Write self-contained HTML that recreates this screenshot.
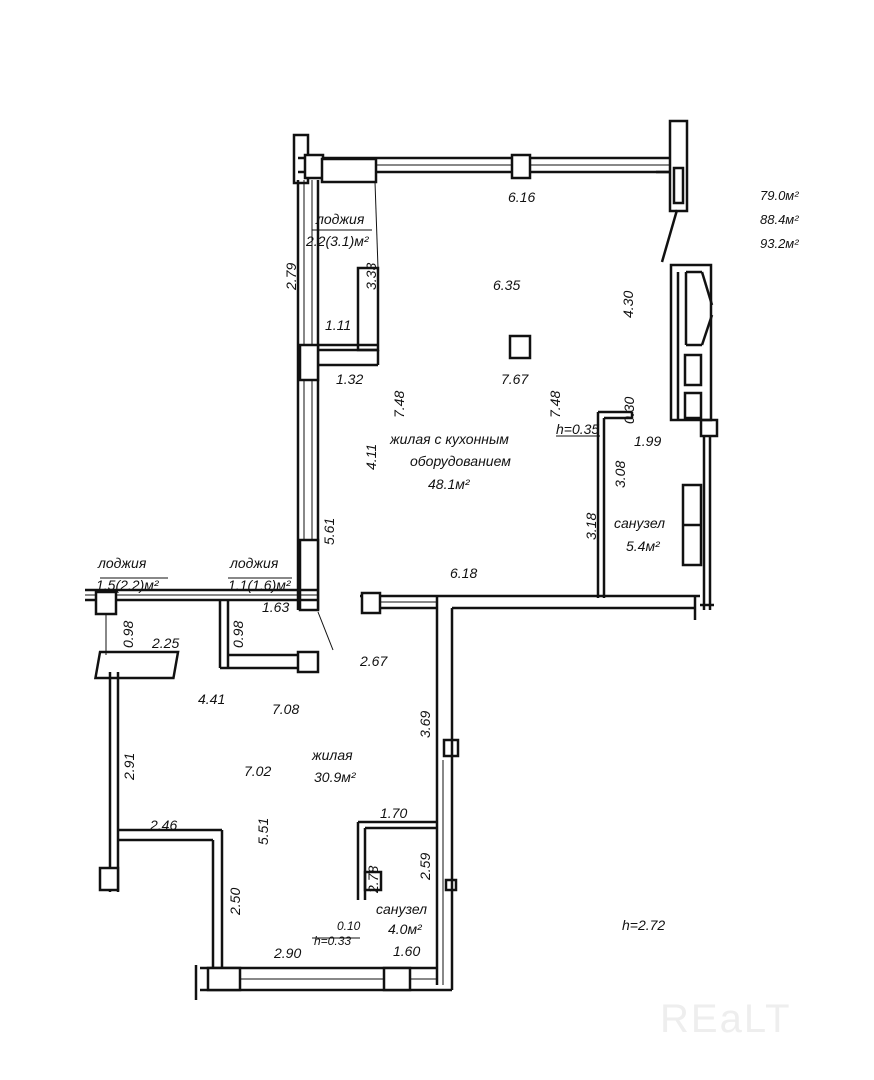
<!DOCTYPE html>
<html><head><meta charset="utf-8"><style>
html,body{margin:0;padding:0;background:#fff;width:874px;height:1080px;overflow:hidden}
svg text{font-family:"Liberation Sans",sans-serif;font-style:italic;fill:#111;font-size:14px}
</style></head><body>
<svg width="874" height="1080" viewBox="0 0 874 1080" xmlns="http://www.w3.org/2000/svg">
<g fill="none" stroke="#111" stroke-width="2.5">
<line x1="298" y1="158" x2="670" y2="158"/><line x1="298" y1="172" x2="670" y2="172"/>
<line x1="375" y1="165" x2="670" y2="165" stroke-width="1"/>
<rect x="294" y="135" width="14" height="48"/>
<rect x="305" y="155" width="18" height="23" fill="#fff"/>
<rect x="322" y="159" width="54" height="23" fill="#fff"/>
<rect x="512" y="155" width="18" height="23" fill="#fff"/>
<rect x="670" y="121" width="17" height="90" fill="#fff"/>
<rect x="674" y="168" width="9" height="35"/>
<line x1="656" y1="172" x2="670" y2="172"/>
<line x1="677" y1="210" x2="662" y2="262"/>
<line x1="298" y1="180" x2="298" y2="610"/><line x1="318" y1="180" x2="318" y2="610"/>
<line x1="304" y1="180" x2="304" y2="610" stroke-width="1"/>
<line x1="312" y1="180" x2="312" y2="610" stroke-width="1"/>
<rect x="300" y="345" width="18" height="35" fill="#fff"/>
<rect x="300" y="540" width="18" height="70" fill="#fff"/>
<rect x="358" y="268" width="20" height="82"/>
<line x1="318" y1="345" x2="378" y2="345"/><line x1="318" y1="350" x2="378" y2="350"/>
<line x1="378" y1="350" x2="378" y2="365"/><line x1="318" y1="365" x2="378" y2="365"/>
<line x1="375" y1="182" x2="378" y2="268" stroke-width="1"/>
<rect x="510" y="336" width="20" height="22"/>
<rect x="671" y="265" width="40" height="155"/>
<line x1="678" y1="272" x2="678" y2="420"/><line x1="686" y1="272" x2="702" y2="272"/>
<line x1="686" y1="272" x2="686" y2="345"/><line x1="702" y1="272" x2="712" y2="305"/><line x1="712" y1="315" x2="702" y2="345"/><line x1="686" y1="345" x2="702" y2="345"/>
<rect x="685" y="355" width="16" height="30"/><rect x="685" y="393" width="16" height="25"/>
<rect x="701" y="420" width="16" height="16"/>
<line x1="704" y1="436" x2="704" y2="610"/><line x1="710" y1="436" x2="710" y2="610"/>
<rect x="683" y="485" width="18" height="80"/><line x1="683" y1="525" x2="701" y2="525"/>
<line x1="598" y1="412" x2="632" y2="412"/><line x1="604" y1="418" x2="632" y2="418"/><line x1="632" y1="412" x2="632" y2="418"/>
<line x1="598" y1="412" x2="598" y2="598"/><line x1="604" y1="418" x2="604" y2="598"/>
<line x1="360" y1="596" x2="700" y2="596"/><line x1="452" y1="608" x2="695" y2="608"/>
<line x1="695" y1="596" x2="695" y2="620"/><line x1="700" y1="605" x2="714" y2="605"/>
<line x1="380" y1="602" x2="438" y2="602" stroke-width="1"/>
<rect x="362" y="593" width="18" height="20" fill="#fff"/>
<line x1="380" y1="608" x2="437" y2="608"/>
<line x1="437" y1="596" x2="437" y2="985"/><line x1="452" y1="608" x2="452" y2="990"/>
<line x1="443" y1="760" x2="443" y2="985" stroke-width="1"/>
<rect x="444" y="740" width="14" height="16"/><rect x="446" y="880" width="10" height="10"/>
<line x1="85" y1="590" x2="318" y2="590"/><line x1="85" y1="600" x2="318" y2="600"/>
<line x1="85" y1="595" x2="318" y2="595" stroke-width="1"/>
<rect x="96" y="592" width="20" height="22" fill="#fff"/>
<line x1="220" y1="600" x2="220" y2="668"/><line x1="228" y1="600" x2="228" y2="668"/>
<line x1="228" y1="655" x2="300" y2="655"/><line x1="220" y1="668" x2="300" y2="668"/>
<rect x="298" y="652" width="20" height="20" fill="#fff"/>
<line x1="318" y1="612" x2="333" y2="650" stroke-width="1"/>
<line x1="106" y1="614" x2="106" y2="655" stroke-width="1"/>
<rect x="100" y="652" width="78" height="26" transform="skewX(-10) translate(115 0)"/>
<line x1="110" y1="672" x2="110" y2="892"/><line x1="118" y1="672" x2="118" y2="892"/>
<line x1="118" y1="830" x2="222" y2="830"/><line x1="118" y1="840" x2="213" y2="840"/>
<line x1="222" y1="830" x2="222" y2="975"/><line x1="213" y1="840" x2="213" y2="968"/>
<rect x="100" y="868" width="18" height="22" fill="#fff"/>
<line x1="200" y1="968" x2="437" y2="968"/><line x1="200" y1="990" x2="452" y2="990"/>
<line x1="240" y1="979" x2="437" y2="979" stroke-width="1"/>
<rect x="208" y="968" width="32" height="22" fill="#fff"/>
<rect x="384" y="968" width="26" height="22" fill="#fff"/>
<line x1="196" y1="965" x2="196" y2="1000"/>
<line x1="358" y1="822" x2="437" y2="822"/><line x1="365" y1="828" x2="437" y2="828"/>
<line x1="358" y1="822" x2="358" y2="900"/><line x1="365" y1="828" x2="365" y2="900"/>
<rect x="365" y="872" width="16" height="18"/>
<line x1="100" y1="578" x2="168" y2="578" stroke-width="1"/>
<line x1="228" y1="578" x2="292" y2="578" stroke-width="1"/>
<line x1="312" y1="230" x2="372" y2="230" stroke-width="1"/>
<line x1="556" y1="436" x2="600" y2="436" stroke-width="1"/>
<line x1="312" y1="938" x2="360" y2="938" stroke-width="1"/>
</g>
<text x="508" y="202">6.16</text>
<text x="760" y="200" style="font-size:13px">79.0м²</text>
<text x="760" y="224" style="font-size:13px">88.4м²</text>
<text x="760" y="248" style="font-size:13px">93.2м²</text>
<text x="316" y="224">лоджия</text>
<text x="306" y="246">2.2(3.1)м²</text>
<text x="493" y="290">6.35</text>
<text x="325" y="330">1.11</text>
<text x="336" y="384">1.32</text>
<text x="501" y="384">7.67</text>
<text x="390" y="444">жилая с кухонным</text>
<text x="410" y="466">оборудованием</text>
<text x="428" y="489">48.1м²</text>
<text x="556" y="434">h=0.35</text>
<text x="634" y="446">1.99</text>
<text x="614" y="528">санузел</text>
<text x="626" y="551">5.4м²</text>
<text x="450" y="578">6.18</text>
<text x="98" y="568">лоджия</text>
<text x="96" y="590">1.5(2.2)м²</text>
<text x="230" y="568">лоджия</text>
<text x="228" y="590">1.1(1.6)м²</text>
<text x="262" y="612">1.63</text>
<text x="152" y="648">2.25</text>
<text x="360" y="666">2.67</text>
<text x="198" y="704">4.41</text>
<text x="272" y="714">7.08</text>
<text x="312" y="760">жилая</text>
<text x="314" y="782">30.9м²</text>
<text x="244" y="776">7.02</text>
<text x="150" y="830">2.46</text>
<text x="380" y="818">1.70</text>
<text x="376" y="914">санузел</text>
<text x="388" y="934">4.0м²</text>
<text x="337" y="930" style="font-size:12px">0.10</text>
<text x="314" y="945" style="font-size:12px">h=0.33</text>
<text x="274" y="958">2.90</text>
<text x="393" y="956">1.60</text>
<text x="622" y="930">h=2.72</text>
<text x="660" y="1032" style="font-size:40px;fill:#eee;font-style:normal;letter-spacing:2px">REaLT</text>
<g style="font-size:14px">
<text transform="translate(296 290) rotate(-90)">2.79</text>
<text transform="translate(376 290) rotate(-90)">3.33</text>
<text transform="translate(404 418) rotate(-90)">7.48</text>
<text transform="translate(560 418) rotate(-90)">7.48</text>
<text transform="translate(633 318) rotate(-90)">4.30</text>
<text transform="translate(634 424) rotate(-90)">0.30</text>
<text transform="translate(625 488) rotate(-90)">3.08</text>
<text transform="translate(596 540) rotate(-90)">3.18</text>
<text transform="translate(376 470) rotate(-90)">4.11</text>
<text transform="translate(334 545) rotate(-90)">5.61</text>
<text transform="translate(133 648) rotate(-90)">0.98</text>
<text transform="translate(243 648) rotate(-90)">0.98</text>
<text transform="translate(430 738) rotate(-90)">3.69</text>
<text transform="translate(134 780) rotate(-90)">2.91</text>
<text transform="translate(268 845) rotate(-90)">5.51</text>
<text transform="translate(430 880) rotate(-90)">2.59</text>
<text transform="translate(378 893) rotate(-90)">2.78</text>
<text transform="translate(240 915) rotate(-90)">2.50</text>
</g>
</svg>
</body></html>
